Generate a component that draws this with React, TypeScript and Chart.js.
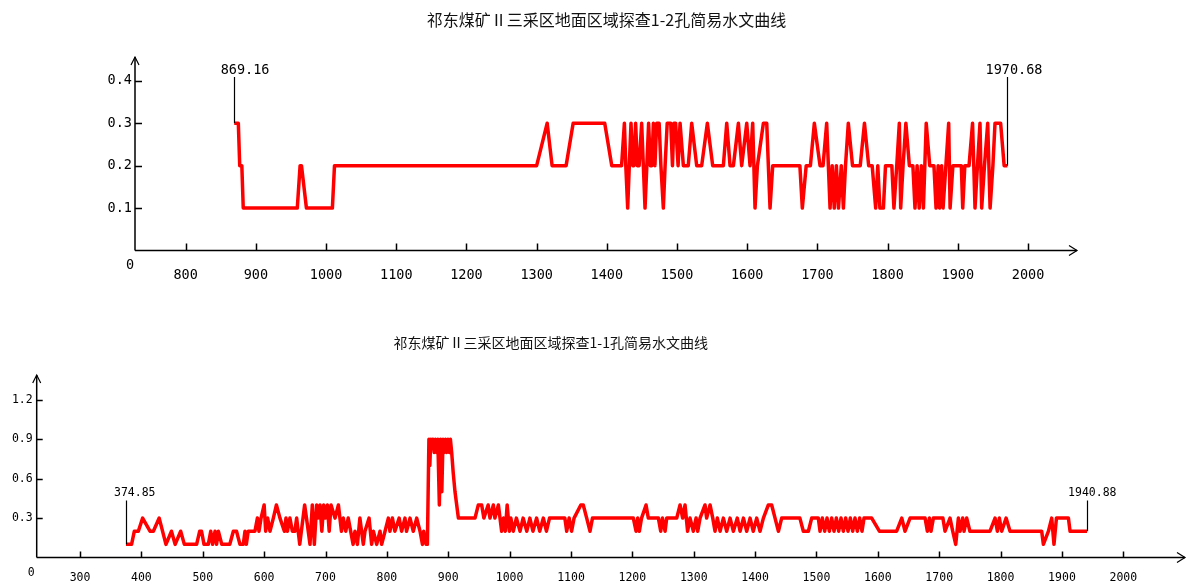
import React, { useEffect, useRef } from "react";
import { Chart, registerables } from "chart.js";

Chart.register(...registerables);

// ---------- data ----------
const topTitle = "祁东煤矿Ⅱ三采区地面区域探查1-2孔简易水文曲线";
const bottomTitle = "祁东煤矿Ⅱ三采区地面区域探查1-1孔简易水文曲线";

const topXTicks = [800, 900, 1000, 1100, 1200, 1300, 1400, 1500, 1600, 1700, 1800, 1900, 2000];
const topYTicks = [0.1, 0.2, 0.3, 0.4];
const bottomXTicks = [300, 400, 500, 600, 700, 800, 900, 1000, 1100, 1200, 1300, 1400, 1500, 1600, 1700, 1800, 1900, 2000];
const bottomYTicks = [0.3, 0.6, 0.9, 1.2];

// hole 1-2 (top chart): depth and value
const topDepth = [
  869.16, 875, 877, 880, 882, 959, 963, 965, 972, 1009,
  1012, 1300, 1315, 1322, 1342, 1352, 1397, 1407, 1421, 1425,
  1427, 1429.7, 1432, 1434.4, 1437, 1438.5, 1441, 1443.5, 1446, 1449.6,
  1452, 1454.4, 1457, 1459.5, 1462, 1464, 1466.3, 1468.5, 1471, 1474.5,
  1477, 1480.5, 1483, 1486, 1491, 1493.5, 1495.5, 1498, 1501.5, 1504.3,
  1509, 1516, 1520.9, 1528, 1535.1, 1543.2, 1550.8, 1566, 1570.8, 1575.5,
  1580.3, 1587.4, 1592.1, 1599.3, 1604, 1607.8, 1611.1, 1614.5, 1623, 1627.8,
  1630.1, 1632.5, 1636.3, 1675, 1678.5, 1684, 1690, 1695.6, 1703.7, 1708,
  1713.2, 1718, 1721, 1724, 1727, 1730, 1734, 1737, 1740, 1744,
  1750, 1761, 1767, 1773, 1778, 1783, 1786, 1789, 1794, 1797,
  1806, 1809, 1813, 1816.7, 1818.6, 1822, 1826, 1831, 1836, 1839,
  1842, 1845, 1848, 1851, 1855, 1860, 1866, 1869, 1872, 1874,
  1877, 1879, 1883, 1887, 1889, 1893, 1905, 1907, 1910, 1916,
  1921, 1924.5, 1928, 1931.6, 1934, 1938, 1942.6, 1946, 1950, 1953,
  1961, 1966, 1970.68,
];
const topValue = [
  0.3, 0.3, 0.2, 0.2, 0.1, 0.1, 0.2, 0.2, 0.1, 0.1,
  0.2, 0.2, 0.3, 0.2, 0.2, 0.3, 0.3, 0.2, 0.2, 0.3,
  0.2, 0.1, 0.2, 0.3, 0.2, 0.2, 0.3, 0.2, 0.2, 0.3,
  0.2, 0.1, 0.2, 0.3, 0.2, 0.2, 0.3, 0.2, 0.3, 0.3,
  0.2, 0.1, 0.2, 0.3, 0.3, 0.2, 0.3, 0.3, 0.2, 0.3,
  0.2, 0.2, 0.3, 0.2, 0.2, 0.3, 0.2, 0.2, 0.3, 0.2,
  0.2, 0.3, 0.2, 0.3, 0.2, 0.3, 0.1, 0.2, 0.3, 0.3,
  0.2, 0.1, 0.2, 0.2, 0.1, 0.2, 0.2, 0.3, 0.2, 0.2,
  0.3, 0.1, 0.2, 0.1, 0.2, 0.1, 0.2, 0.1, 0.2, 0.3,
  0.2, 0.2, 0.3, 0.2, 0.2, 0.1, 0.2, 0.1, 0.1, 0.2,
  0.2, 0.1, 0.2, 0.3, 0.1, 0.2, 0.3, 0.2, 0.2, 0.1,
  0.2, 0.1, 0.2, 0.1, 0.3, 0.2, 0.2, 0.1, 0.2, 0.1,
  0.2, 0.1, 0.2, 0.3, 0.1, 0.2, 0.2, 0.1, 0.2, 0.2,
  0.3, 0.1, 0.2, 0.3, 0.1, 0.2, 0.3, 0.1, 0.2, 0.3,
  0.3, 0.2, 0.2,
];

// hole 1-1 (bottom chart): depth and value
const bottomDepth = [
  374.85, 384, 388.5, 395, 402, 414, 419.5, 429, 440, 449,
  455, 464, 470, 490, 495, 498, 502, 509, 513, 516,
  520, 522.5, 525.4, 531, 544, 549.8, 555, 560.6, 566, 568.8,
  571, 574, 585, 589, 591.6, 595, 600, 602.5, 605.7, 609.5,
  615, 620, 625.8, 633, 635.6, 638, 642, 646, 650, 653,
  658, 666, 669, 674.7, 678.5, 681.8, 685.6, 688, 691, 694,
  697, 700, 703, 706, 709, 715.5, 721, 726, 729, 733,
  737, 745, 748, 752, 756, 761.6, 764.3, 771, 775.2, 778,
  783.4, 788.8, 791.5, 797, 802.4, 805, 809, 813, 820, 824,
  829.5, 832, 837.7, 843, 848.6, 854, 858, 860, 864, 866,
  868.5, 870, 871.5, 873, 875, 877, 879, 881, 883, 885.5,
  887.5, 889.5, 891.5, 893.5, 895.5, 897.5, 899.5, 901.8, 903.5, 905.6,
  908, 911, 916.5, 943.6, 949, 954.5, 958, 965, 968, 973.5,
  976, 981.7, 987, 990, 993, 996, 999.6, 1002, 1006, 1011,
  1017, 1022, 1028, 1033, 1038, 1044, 1049, 1055, 1060, 1065,
  1090, 1093, 1097, 1101, 1105, 1116, 1120, 1125.6, 1131, 1135,
  1201.6, 1206, 1208.7, 1211.4, 1215, 1222.3, 1226, 1242.4, 1246.2, 1249,
  1253.3, 1256, 1272.3, 1277.7, 1282, 1285.8, 1290, 1294, 1299.4, 1303.8,
  1306.5, 1310.3, 1318.4, 1321, 1326.6, 1331, 1334.7, 1338.5, 1342.9, 1348.3,
  1353.7, 1359.2, 1364.6, 1371, 1375.5, 1381, 1386.3, 1391.8, 1397, 1402.6,
  1408, 1413.5, 1421.6, 1427, 1432.5, 1438, 1443.3, 1473, 1478.6, 1486.8,
  1492.2, 1503, 1505.8, 1509.6, 1513.4, 1517.2, 1521, 1524.8, 1528.6, 1532.4,
  1536.2, 1540, 1543.8, 1547.6, 1551.4, 1555.2, 1559, 1562.8, 1566.6, 1570.4,
  1574.2, 1577.5, 1590, 1602.5, 1630.7, 1639, 1644.3, 1652.5, 1677, 1680.7,
  1684, 1686.7, 1690.5, 1706, 1709.5, 1717.6, 1722, 1726.9, 1731.2, 1734,
  1738.3, 1740.5, 1744.8, 1750, 1782.8, 1791, 1794.8, 1798, 1801.8, 1809,
  1815.4, 1867, 1869.7, 1878, 1883.3, 1887, 1891, 1910.5, 1913.2, 1940.88,
];
const bottomValue = [
  0.1, 0.1, 0.2, 0.2, 0.3, 0.2, 0.2, 0.3, 0.1, 0.2,
  0.1, 0.2, 0.1, 0.1, 0.2, 0.2, 0.1, 0.1, 0.2, 0.1,
  0.2, 0.1, 0.2, 0.1, 0.1, 0.2, 0.2, 0.1, 0.1, 0.2,
  0.1, 0.2, 0.2, 0.3, 0.2, 0.3, 0.4, 0.2, 0.3, 0.2,
  0.3, 0.4, 0.3, 0.2, 0.3, 0.2, 0.3, 0.2, 0.2, 0.3,
  0.1, 0.4, 0.3, 0.1, 0.4, 0.1, 0.4, 0.3, 0.4, 0.2,
  0.4, 0.3, 0.4, 0.2, 0.4, 0.3, 0.4, 0.2, 0.3, 0.2,
  0.3, 0.1, 0.2, 0.1, 0.3, 0.1, 0.2, 0.3, 0.1, 0.2,
  0.1, 0.2, 0.1, 0.2, 0.3, 0.2, 0.3, 0.2, 0.3, 0.2,
  0.3, 0.2, 0.3, 0.2, 0.3, 0.2, 0.1, 0.2, 0.1, 0.1,
  0.9, 0.7, 0.9, 0.85, 0.9, 0.8, 0.9, 0.8, 0.9, 0.4,
  0.9, 0.5, 0.9, 0.8, 0.9, 0.8, 0.9, 0.8, 0.9, 0.8,
  0.65, 0.5, 0.3, 0.3, 0.4, 0.4, 0.3, 0.4, 0.3, 0.4,
  0.3, 0.4, 0.2, 0.3, 0.2, 0.4, 0.2, 0.3, 0.2, 0.3,
  0.2, 0.3, 0.2, 0.3, 0.2, 0.3, 0.2, 0.3, 0.2, 0.3,
  0.3, 0.2, 0.3, 0.2, 0.3, 0.4, 0.4, 0.3, 0.2, 0.3,
  0.3, 0.2, 0.3, 0.2, 0.3, 0.4, 0.3, 0.3, 0.2, 0.3,
  0.2, 0.3, 0.3, 0.4, 0.3, 0.4, 0.2, 0.3, 0.2, 0.3,
  0.2, 0.3, 0.4, 0.3, 0.4, 0.3, 0.2, 0.3, 0.2, 0.3,
  0.2, 0.3, 0.2, 0.3, 0.2, 0.3, 0.2, 0.3, 0.2, 0.3,
  0.2, 0.3, 0.4, 0.4, 0.3, 0.2, 0.3, 0.3, 0.2, 0.2,
  0.3, 0.3, 0.2, 0.3, 0.2, 0.3, 0.2, 0.3, 0.2, 0.3,
  0.2, 0.3, 0.2, 0.3, 0.2, 0.3, 0.2, 0.3, 0.2, 0.3,
  0.2, 0.3, 0.3, 0.2, 0.2, 0.3, 0.2, 0.3, 0.3, 0.2,
  0.3, 0.2, 0.3, 0.3, 0.2, 0.3, 0.2, 0.1, 0.3, 0.2,
  0.3, 0.2, 0.3, 0.2, 0.2, 0.3, 0.2, 0.3, 0.2, 0.3,
  0.2, 0.2, 0.1, 0.2, 0.3, 0.1, 0.3, 0.3, 0.2, 0.2,
];

// ---------- styles / layout ----------
type Cfg = {
  title: string;
  depth: number[];
  value: number[];
  xTicks: number[];
  yTicks: number[];
  xMin: number;
  xMax: number;
  yMax: number;
  canvasTop: number;
  height: number;
  padding: { left: number; right: number; top: number; bottom: number };
  font: number;
  titleFont: number;
  titleX: number;
  titleY: number;
  xLabelDy: number;
  yLabelDx: number;
  zeroDx: number;
  zeroDy: number;
  tickLen: number;
  annTop: number;
  annTextY: number;
  annTextDx: number;
};

const topCfg: Cfg = {
  title: topTitle,
  depth: topDepth,
  value: topValue,
  xTicks: topXTicks,
  yTicks: topYTicks,
  xMin: 727.8,
  xMax: 2069.8,
  yMax: 0.456,
  canvasTop: 0,
  height: 300,
  padding: { left: 135, right: 111, top: 57, bottom: 49.5 },
  font: 13.5,
  titleFont: 16,
  titleX: 606.5,
  titleY: 20,
  xLabelDy: 24.5,
  yLabelDx: 3,
  zeroDx: 5,
  zeroDy: 15,
  tickLen: 7,
  annTop: 77,
  annTextY: 70,
  annTextDx: 35,
};

const bottomCfg: Cfg = {
  title: bottomTitle,
  depth: bottomDepth,
  value: bottomValue,
  xTicks: bottomXTicks,
  yTicks: bottomYTicks,
  xMin: 229.4,
  xMax: 2100.5,
  yMax: 1.389,
  canvasTop: 300,
  height: 287,
  padding: { left: 36.7, right: 3, top: 75, bottom: 29.5 },
  font: 11.5,
  titleFont: 14,
  titleX: 550.8,
  titleY: 43,
  xLabelDy: 21,
  yLabelDx: 4,
  zeroDx: 5.5,
  zeroDy: 16,
  tickLen: 6,
  annTop: 200.5,
  annTextY: 193,
  annTextDx: 29,
};

function overlay(c: Cfg) {
  return {
    id: "hydroOverlay",
    afterDatasetsDraw(chart: any) {
      const ctx: CanvasRenderingContext2D = chart.ctx;
      const xs = chart.scales.x;
      const ys = chart.scales.y;
      const a = chart.chartArea;
      const ox = xs.getPixelForValue(c.xMin);
      const oy = ys.getPixelForValue(0);
      ctx.save();
      ctx.strokeStyle = "#000";
      ctx.fillStyle = "#000";
      // axes
      ctx.lineWidth = 1.5;
      ctx.beginPath();
      ctx.moveTo(ox, oy);
      ctx.lineTo(a.right, oy);
      ctx.moveTo(ox, oy);
      ctx.lineTo(ox, a.top);
      ctx.stroke();
      // arrows
      ctx.lineWidth = 1.2;
      ctx.beginPath();
      ctx.moveTo(ox - 4, a.top + 8);
      ctx.lineTo(ox, a.top);
      ctx.lineTo(ox + 4, a.top + 8);
      ctx.moveTo(a.right - 8, oy - 5);
      ctx.lineTo(a.right, oy);
      ctx.lineTo(a.right - 8, oy + 5);
      ctx.stroke();
      // ticks
      ctx.lineWidth = 1.5;
      ctx.beginPath();
      for (const v of c.xTicks) {
        const px = Math.round(xs.getPixelForValue(v)) + 0.5;
        ctx.moveTo(px, oy);
        ctx.lineTo(px, oy - c.tickLen);
      }
      for (const v of c.yTicks) {
        const py = Math.round(ys.getPixelForValue(v)) + 0.5;
        ctx.moveTo(ox, py);
        ctx.lineTo(ox + c.tickLen, py);
      }
      ctx.stroke();
      // labels
      ctx.font = `${c.font}px "DejaVu Sans Mono", monospace`;
      ctx.textBaseline = "middle";
      ctx.textAlign = "center";
      for (const v of c.xTicks) {
        ctx.fillText(String(v), xs.getPixelForValue(v), oy + c.xLabelDy);
      }
      ctx.textAlign = "right";
      for (const v of c.yTicks) {
        ctx.fillText(v.toFixed(1), ox - c.yLabelDx, ys.getPixelForValue(v));
      }
      ctx.textAlign = "center";
      ctx.fillText("0", ox - c.zeroDx, oy + c.zeroDy);
      // annotations at first and last depth
      const idx = [0, c.depth.length - 1];
      ctx.lineWidth = 1.2;
      for (const i of idx) {
        const px = Math.round(xs.getPixelForValue(c.depth[i])) + 0.5;
        const py = ys.getPixelForValue(c.value[i]);
        ctx.beginPath();
        ctx.moveTo(px, py);
        ctx.lineTo(px, c.annTop);
        ctx.stroke();
        ctx.textAlign = "right";
        ctx.fillText(c.depth[i].toFixed(2), px + c.annTextDx, c.annTextY);
      }
      // title
      ctx.font = `${c.titleFont}px "Noto Sans CJK SC", sans-serif`;
      ctx.textAlign = "center";
      ctx.fillStyle = "#111";
      ctx.fillText(c.title, c.titleX, c.titleY);
      ctx.restore();
    },
  };
}

function HydroChart({ cfg }: { cfg: Cfg }) {
  const ref = useRef<HTMLCanvasElement>(null);
  useEffect(() => {
    const c = cfg;
    const chart = new Chart(ref.current as HTMLCanvasElement, {
      type: "line",
      data: {
        datasets: [
          {
            data: c.depth.map((x, i) => ({ x, y: c.value[i] })),
            borderColor: "#ff0000",
            backgroundColor: "#ff0000",
            borderWidth: 3.5,
            borderJoinStyle: "round",
            pointRadius: 0,
            tension: 0,
            fill: false,
          },
        ],
      },
      options: {
        responsive: false,
        animation: false,
        devicePixelRatio: 1,
        events: [],
        layout: { padding: c.padding },
        plugins: {
          legend: { display: false },
          tooltip: { enabled: false },
          title: { display: false },
        },
        scales: {
          x: { type: "linear", min: c.xMin, max: c.xMax, display: false },
          y: { type: "linear", min: 0, max: c.yMax, display: false },
        },
      },
      plugins: [overlay(c) as any],
    } as any);
    return () => chart.destroy();
  }, [cfg]);
  return (
    <canvas
      ref={ref}
      width={1188}
      height={cfg.height}
      style={{ position: "absolute", left: 0, top: cfg.canvasTop, width: 1188, height: cfg.height }}
    />
  );
}

export default function App() {
  return (
    <div style={{ position: "absolute", left: 0, top: 0, width: 1188, height: 587, background: "#fff" }}>
      <HydroChart cfg={topCfg} />
      <HydroChart cfg={bottomCfg} />
    </div>
  );
}
